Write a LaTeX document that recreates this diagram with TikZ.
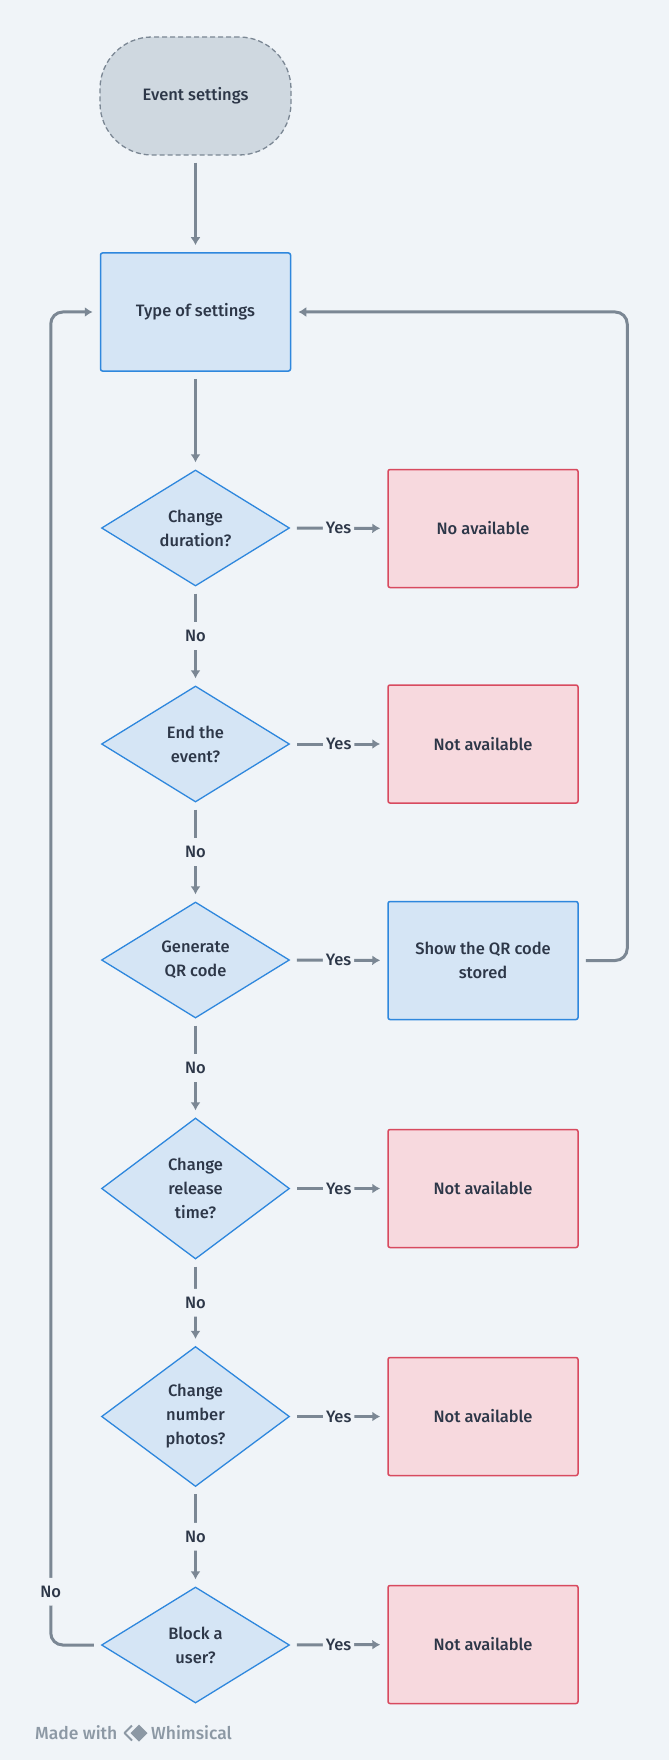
\documentclass[tikz,border=0pt]{standalone}
\usepackage{fontspec}
\setmainfont{Fira Sans Medium}
\usetikzlibrary{shapes.geometric,arrows.meta}

\definecolor{bgcol}{RGB}{240,244,248}
\definecolor{startfill}{RGB}{207,216,224}
\definecolor{linegray}{RGB}{123,135,148}
\definecolor{bluefill}{RGB}{213,229,245}
\definecolor{blueline}{RGB}{46,135,221}
\definecolor{redfill}{RGB}{247,217,222}
\definecolor{redline}{RGB}{216,74,95}
\definecolor{textcol}{RGB}{45,55,72}
\definecolor{markgray}{RGB}{140,152,164}

\tikzset{
  startnode/.style={draw=linegray,line width=1.3pt,dash pattern=on 5pt off 3pt,fill=startfill,
    rounded corners=52pt,minimum width=191pt,minimum height=118pt},
  bluebox/.style={draw=blueline,line width=1.5pt,fill=bluefill,rounded corners=2pt,
    minimum width=190pt,minimum height=118pt,align=center},
  redbox/.style={bluebox,draw=redline,fill=redfill},
  decision/.style={diamond,aspect=1.6,draw=blueline,line width=1.3pt,fill=bluefill,inner sep=0pt,
    minimum width=188pt,minimum height=116pt,align=center},
  flow/.style={draw=linegray,line width=3pt,-{Latex[length=8pt,width=10pt]},
    shorten >=7pt,shorten <=7pt,rounded corners=12pt},
  lbl/.style={fill=bgcol,inner xsep=3pt,inner ysep=8pt}
}

\begin{document}
\begin{tikzpicture}[x=1pt,y=-1pt,font=\fontsize{16.5}{24}\selectfont,text=textcol]
  \fill[bgcol] (0,0) rectangle (669,1760);
  \useasboundingbox (0,0) rectangle (669,1760);

  \node[startnode] (event) at (195.5,96) {Event settings};
  \node[bluebox] (type) at (195.5,312) {Type of settings};

  \node[decision] (dur) at (195.5,528) {Change\\duration?};
  \node[decision] (endev) at (195.5,744) {End the\\event?};
  \node[decision] (qr) at (195.5,960) {Generate\\QR code};
  \node[decision,minimum height=141pt] (rel) at (195.5,1188.5) {Change\\release\\time?};
  \node[decision,minimum height=140pt] (num) at (195.5,1416.5) {Change\\number\\photos?};
  \node[decision] (block) at (195.5,1645) {Block a\\user?};

  \node[redbox] (durno) at (483,528.5) {No available};
  \node[redbox] (endno) at (483,744) {Not available};
  \node[bluebox] (qrshow) at (483,960.5) {Show the QR code\\stored};
  \node[redbox] (relno) at (483,1188.5) {Not available};
  \node[redbox] (numno) at (483,1416.5) {Not available};
  \node[redbox] (blockno) at (483,1644.5) {Not available};

  \draw[flow] (event) -- (type);
  \draw[flow] (type) -- (dur);
  \draw[flow] (dur) -- node[lbl]{No} (endev);
  \draw[flow] (endev) -- node[lbl]{No} (qr);
  \draw[flow] (qr) -- node[lbl]{No} (rel);
  \draw[flow] (rel) -- node[lbl]{No} (num);
  \draw[flow] (num) -- node[lbl]{No} (block);

  \draw[flow] (dur) -- node[lbl]{Yes} (durno);
  \draw[flow] (endev) -- node[lbl]{Yes} (endno);
  \draw[flow] (qr) -- node[lbl]{Yes} (qrshow);
  \draw[flow] (rel) -- node[lbl]{Yes} (relno);
  \draw[flow] (num) -- node[lbl]{Yes} (numno);
  \draw[flow] (block) -- node[lbl]{Yes} (blockno);

  \draw[flow] (qrshow.east) -| ([xshift=336pt]type.east) -- (type.east);
  \draw[flow] (block.west) -| node[lbl,pos=0.52]{No} ([xshift=-49pt]type.west) -- (type.west);

  \node[anchor=west,text=markgray,inner sep=0pt,font=\fontsize{17.5}{20}\selectfont] (made) at (35,1733) {Made with};
  \draw[markgray,line width=2pt,line join=round] (132,1725.5) -- (124.5,1733) -- (132,1740.5);
  \fill[markgray] (139,1724.5) -- (147.5,1733) -- (139,1741.5) -- (130.5,1733) -- cycle;
  \node[anchor=west,text=markgray,inner sep=0pt,font=\fontsize{17.5}{20}\selectfont] (whim) at (151,1733) {Whimsical};
\end{tikzpicture}
\end{document}
